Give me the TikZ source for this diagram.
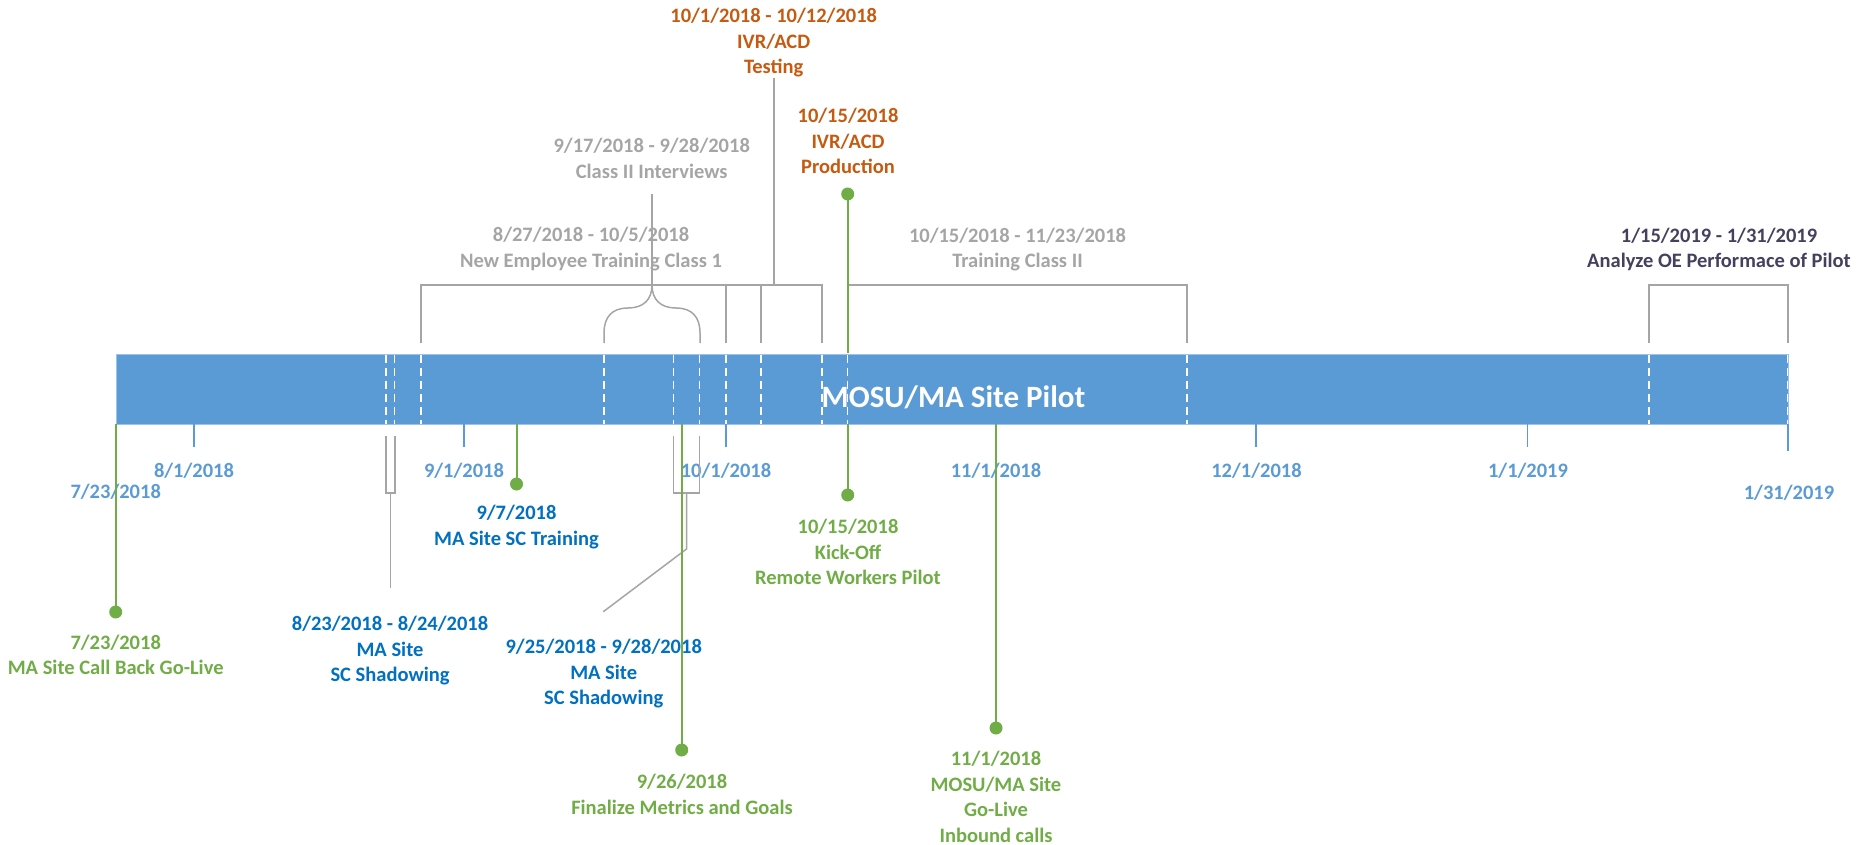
\documentclass[tikz,border=0pt]{standalone}
\usepackage{fontspec}
\setmainfont{Carlito}
\definecolor{barblue}{HTML}{5B9BD5}
\definecolor{mgreen}{HTML}{70AD47}
\definecolor{lgray}{HTML}{A5A5A5}
\definecolor{dblue}{HTML}{0070C0}
\definecolor{orng}{HTML}{C55A11}
\definecolor{slate}{HTML}{44405E}
\begin{document}
\begin{tikzpicture}[x=1pt,y=-1pt,
  lbl/.style={font=\fontsize{20.5}{25.5}\selectfont\bfseries, align=center, inner sep=0pt},
  ticklbl/.style={lbl, text=barblue},
  graylbl/.style={lbl, text=lgray},
  bluelbl/.style={lbl, text=dblue},
  greenlbl/.style={lbl, text=mgreen},
  orlbl/.style={lbl, text=orng},
  brk/.style={draw=lgray, line width=1.5pt},
  ms/.style={draw=mgreen, line width=2pt},
  msdot/.style={circle, fill=mgreen, inner sep=0pt, minimum size=13pt},
  tickln/.style={draw=barblue, line width=1.5pt},
  barsep/.style={draw=white, line width=1.3pt, dash pattern=on 8pt off 5pt}]
\useasboundingbox (0,0) rectangle (1870,845);

% bar
\node[fill=barblue, draw=barblue!60!white, line width=0.8pt, inner sep=0pt, minimum width=1672pt, minimum height=70pt, anchor=north west] (bar) at (115.7,354) {};
\foreach \x in {386,394.5,421,604,673.5,699.5,726,761,822,847.5,1187,1649,1787.5}
  \draw[barsep] (\x,354.5) -- (\x,423.5);
\node[font=\fontsize{31}{36}\selectfont\bfseries, text=white, inner sep=0pt] (title) at (953.5,397) {MOSU/MA Site Pilot};

% ticks
\foreach \x/\n in {115.7/t0,194/t1,464/t2,726/t3,996/t4,1256/t5,1527.5/t6}
  {\coordinate (\n a) at (\x,424); \coordinate (\n b) at (\x,447); \draw[tickln] (\n a) -- (\n b);}
\coordinate (t7a) at (1788,424); \coordinate (t7b) at (1788,451); \draw[tickln] (t7a) -- (t7b);

\node[ticklbl] (l0) at (115.7,491.7) {7/23/2018};
\node[ticklbl] (l1) at (194,470.7) {8/1/2018};
\node[ticklbl] (l2) at (464,470.7) {9/1/2018};
\node[ticklbl] (l3) at (726,470.7) {10/1/2018};
\node[ticklbl] (l4) at (996,471) {11/1/2018};
\node[ticklbl] (l5) at (1256.5,471) {12/1/2018};
\node[ticklbl] (l6) at (1528,471) {1/1/2019};
\node[ticklbl] (l7) at (1789,492.3) {1/31/2019};

% brackets above
\coordinate (A1) at (421,343); \coordinate (A2) at (761,343);
\draw[brk] (A1) -- (421,285) -- (761,285) -- (A2);
\coordinate (B1) at (726,343); \coordinate (B2) at (822,343); \coordinate (Bt) at (774,285);
\draw[brk] (B1) -- (726,285) -- (822,285) -- (B2);
\coordinate (C1) at (604,343); \coordinate (C2) at (700,343); \coordinate (Cp) at (652,285);
\draw[brk] (C1) -- (604,333) .. controls (604,317) and (612,308) .. (628,308)
  .. controls (643,308) and (652,300) .. (Cp)
  .. controls (652,300) and (661,308) .. (676,308)
  .. controls (692,308) and (700,317) .. (700,333) -- (C2);
\coordinate (D1) at (847.5,343); \coordinate (D2) at (1187,343);
\draw[brk] (D1) -- (847.5,285) -- (1187,285) -- (D2);
\coordinate (E1) at (1649,343); \coordinate (E2) at (1788,343);
\draw[brk] (E1) -- (1649,285) -- (1788,285) -- (E2);

\node[graylbl] (nA) at (591,249.2) {8/27/2018 - 10/5/2018\\New Employee Training Class 1};
\node[graylbl] (nC) at (651.7,158.3) {9/17/2018 - 9/28/2018\\Class II Interviews};
\node[orlbl] (nB) at (773.7,42.7) {10/1/2018 - 10/12/2018\\IVR/ACD\\Testing};
\node[orlbl] (nP) at (848,141.3) {10/15/2018\\IVR/ACD\\Production};
\node[graylbl] (nD) at (1017.5,249.3) {10/15/2018 - 11/23/2018\\Training Class II};
\node[lbl, text=slate] (nE) at (1719,249.2) {1/15/2019 - 1/31/2019\\Analyze OE Performace of Pilot};

\coordinate (Ctop) at (652,194);
\draw[brk] (Cp) -- (Ctop);
\coordinate (Btop) at (774,78);
\draw[brk] (Bt) -- (Btop);

% brackets below
\coordinate (F1) at (386,435.5); \coordinate (F2) at (395,435.5); \coordinate (Fs) at (390.5,493); \coordinate (Fe) at (390.5,588);
\draw[brk] (F1) -- (386,493) -- (395,493) -- (F2);
\draw[brk] (Fs) -- (Fe);
\coordinate (G1) at (673.3,435.5); \coordinate (G2) at (699.3,435.5); \coordinate (Gs) at (686.5,493); \coordinate (Ge) at (603.3,611.7);
\draw[brk] (G1) -- (673.3,493) -- (699.3,493) -- (G2);
\draw[brk] (Gs) -- (686.5,549) -- (Ge);

\node[bluelbl] (nF) at (390,651) {8/23/2018 - 8/24/2018\\MA Site\\SC Shadowing};
\node[bluelbl] (nG) at (603.7,673.9) {9/25/2018 - 9/28/2018\\MA Site\\SC Shadowing};
\node[bluelbl] (n97) at (516.5,527) {9/7/2018\\MA Site SC Training};

% milestones
\node[msdot] (d1) at (115.7,612) {};
\node[msdot] (d2) at (516.5,484) {};
\node[msdot] (d3) at (681.7,750) {};
\node[msdot] (d4) at (847.7,495) {};
\node[msdot] (d5) at (847.7,194) {};
\node[msdot] (d6) at (996,728) {};
\coordinate (m1) at (115.7,424); \coordinate (m2) at (516.5,424); \coordinate (m3) at (681.7,424);
\coordinate (m4) at (847.7,424); \coordinate (m5) at (847.7,353); \coordinate (m6) at (996,424);
\draw[ms] (m1) -- (d1.center);
\draw[ms] (m2) -- (d2.center);
\draw[ms] (m3) -- (d3.center);
\draw[ms] (m4) -- (d4.center);
\draw[ms] (m5) -- (d5.center);
\draw[ms] (m6) -- (d6.center);

\node[greenlbl] (g1) at (115.7,654.7) {7/23/2018\\MA Site Call Back Go-Live};
\node[greenlbl] (g3) at (682,794.2) {9/26/2018\\Finalize Metrics and Goals};
\node[greenlbl] (g4) at (848,551.9) {10/15/2018\\Kick-Off\\Remote Workers Pilot};
\node[greenlbl] (g6) at (996,796.7) {11/1/2018\\MOSU/MA Site\\Go-Live\\Inbound calls};
\end{tikzpicture}
\end{document}
